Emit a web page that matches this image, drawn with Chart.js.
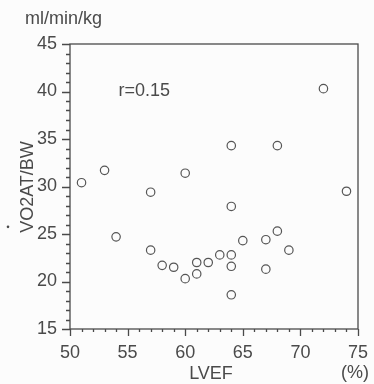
<!DOCTYPE html>
<html>
<head>
<meta charset="utf-8">
<script src="https://cdn.jsdelivr.net/npm/chart.js@4/dist/chart.umd.min.js"></script>
<style>
  html, body { margin: 0; padding: 0; background: #fcfcfc; }
  #wrap { width: 374px; height: 384px; position: relative; }
</style>
</head>
<body>
<div id="wrap"><canvas id="chart"></canvas></div>
<script>
// LVEF (%) vs VO2AT/BW (ml/min/kg)
const lvef = [51, 53, 54, 57, 57, 58, 59, 60, 60, 61, 61, 62, 63, 64, 64, 64, 64, 64, 65, 67, 67, 68, 68, 69, 72, 74];
const vo2 = [30.4, 31.7, 24.7, 29.4, 23.3, 21.7, 21.5, 31.4, 20.3, 20.8, 22.0, 22.0, 22.8, 22.8, 21.6, 18.6, 27.9, 34.3, 24.3, 24.4, 21.3, 25.3, 34.3, 23.3, 40.3, 29.5];
const xTicks = [50, 55, 60, 65, 70, 75];
const yTicks = [15, 20, 25, 30, 35, 40, 45];

const ink = '#4a4a4a';
const fontFamily = 'Liberation Sans, Arial, Helvetica';
const font = { family: fontFamily, size: 18 };

const points = lvef.map((x, i) => ({ x: x, y: vo2[i] }));

// minor/major ticks, frame and loose labels
const decor = {
    id: 'decor',
    afterDraw(chart) {
        const ctx = chart.ctx;
        const area = chart.chartArea;
        const xs = chart.scales.x;
        const ys = chart.scales.y;
        ctx.save();
        ctx.strokeStyle = ink;
        ctx.lineWidth = 1.3;
        ctx.strokeRect(area.left, area.top, area.right - area.left, area.bottom - area.top);

        ctx.beginPath();
        for (let v = 50; v <= 75; v++) {
            const px = Math.round(xs.getPixelForValue(v)) + 0.5;
            const len = v % 5 === 0 ? 7 : 3;
            ctx.moveTo(px, area.bottom);
            ctx.lineTo(px, area.bottom + len);
        }
        for (let v = 15; v <= 45; v++) {
            const py = Math.round(ys.getPixelForValue(v)) + 0.5;
            const len = v % 5 === 0 ? 8 : 4;
            ctx.moveTo(area.left, py);
            ctx.lineTo(area.left - len, py);
        }
        ctx.stroke();

        ctx.fillStyle = ink;
        ctx.font = '18px ' + fontFamily;
        ctx.textBaseline = 'middle';
        ctx.textAlign = 'left';
        ctx.fillText('ml/min/kg', 25, 19);
        ctx.fillText('r=0.15', xs.getPixelForValue(54.2), ys.getPixelForValue(40));
        ctx.textAlign = 'center';
        ctx.fillText('LVEF', 211, 374);
        ctx.fillText('(%)', 355, 373);

        // vertical axis title with dot over the V
        ctx.translate(28, 187);
        ctx.rotate(-Math.PI / 2);
        ctx.fillText('VO2AT/BW', 0, 0);
        const w = ctx.measureText('VO2AT/BW').width;
        ctx.beginPath();
        ctx.arc(-w / 2 + 6, -20, 1.3, 0, Math.PI * 2);
        ctx.fill();
        ctx.restore();
    }
};

new Chart(document.getElementById('chart'), {
    type: 'scatter',
    data: {
        datasets: [{
            data: points,
            pointStyle: 'circle',
            pointRadius: 4.2,
            borderColor: '#555',
            borderWidth: 1.2,
            backgroundColor: 'rgba(0,0,0,0)'
        }]
    },
    options: {
        responsive: true,
        maintainAspectRatio: false,
        animation: false,
        events: [],
        layout: { padding: { left: 0, right: 16, top: 44, bottom: 0 } },
        plugins: {
            legend: { display: false },
            tooltip: { enabled: false }
        },
        scales: {
            x: {
                type: 'linear',
                min: 50,
                max: 75,
                afterFit: s => { s.height = 55; s.paddingLeft = 0; s.paddingRight = 0; },
                afterBuildTicks: s => { s.ticks = xTicks.map(v => ({ value: v })); },
                grid: { display: false },
                border: { display: false },
                ticks: { color: ink, font: font, padding: 5, maxRotation: 0 }
            },
            y: {
                type: 'linear',
                min: 15,
                max: 45,
                afterFit: s => { s.width = 70; s.paddingTop = 0; s.paddingBottom = 0; },
                afterBuildTicks: s => { s.ticks = yTicks.map(v => ({ value: v })); },
                grid: { display: false },
                border: { display: false },
                ticks: { color: ink, font: font, padding: 5 }
            }
        }
    },
    plugins: [decor]
});
</script>
</body>
</html>
